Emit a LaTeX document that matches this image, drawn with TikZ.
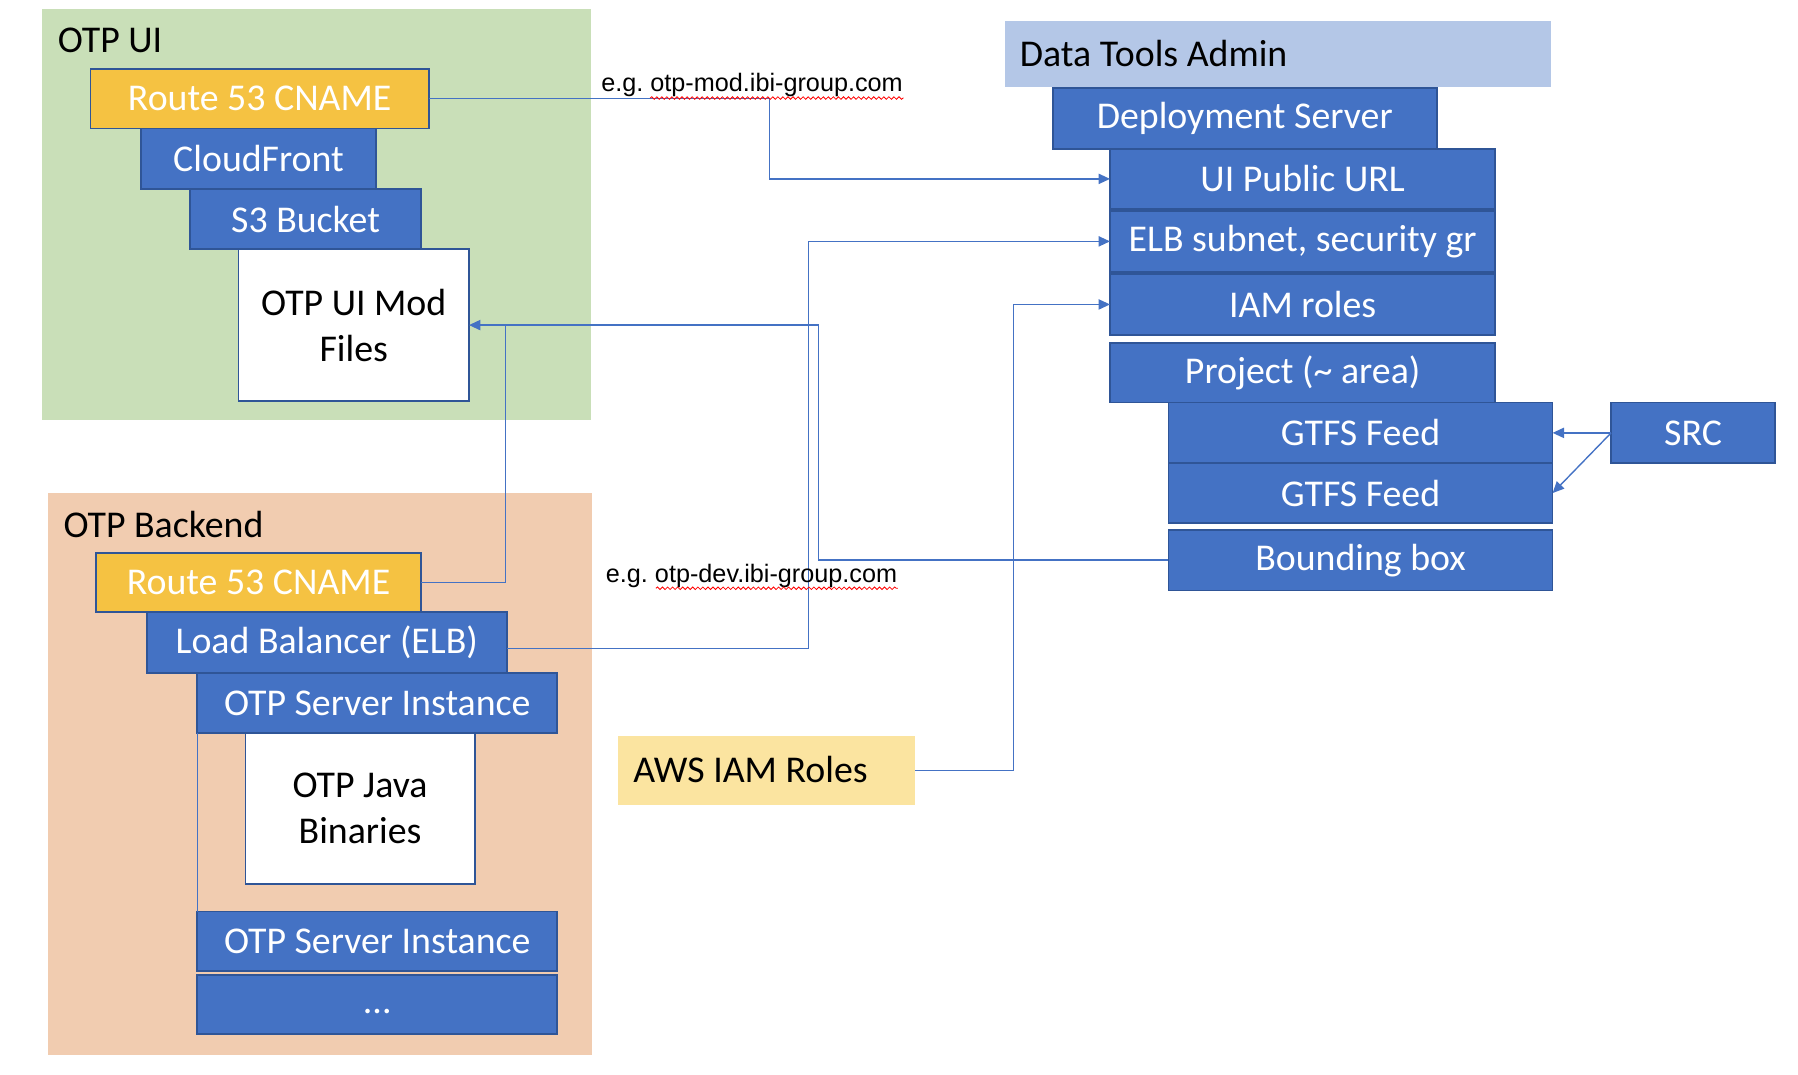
\documentclass[tikz,border=0pt]{standalone}
\usepackage{fontspec}
\setmainfont{Carlito}
\newfontfamily\arialf{Liberation Sans}
\usetikzlibrary{arrows.meta,decorations.pathmorphing}
\definecolor{boxblue}{HTML}{4472C4}
\definecolor{bdr}{HTML}{2F5597}
\definecolor{connblue}{HTML}{4472C4}
\definecolor{orangey}{HTML}{F5C242}
\definecolor{greenbg}{HTML}{C9DFB8}
\definecolor{peachbg}{HTML}{F1CCB0}
\definecolor{lightblue}{HTML}{B4C7E7}
\definecolor{lightyellow}{HTML}{FBE4A0}
\frenchspacing
\newcommand\fs{\fontsize{16.5}{20}\selectfont}
\newcommand\lblfont{\arialf\fontsize{11}{13}\selectfont}
\newcommand\mybox[7]{\node[#6,anchor=north west,minimum width={(#4-#2)*0.5pt},minimum height={(#5-#3)*0.5pt}] (#1) at (#2,#3) {#7};}
\begin{document}
\begin{tikzpicture}[x=0.5pt,y=-0.5pt,
  bluebox/.style={draw=bdr,line width=0.75pt,fill=boxblue,text=white,font=\fs,inner sep=0pt,outer sep=0pt,align=center},
  orangebox/.style={bluebox,fill=orangey},
  whitebox/.style={bluebox,fill=white,text=black},
  bgfill/.style={fill=#1,draw=none,inner sep=0pt,outer sep=0pt},
  titletext/.style={font=\fs,text=black,inner sep=0pt,anchor=west},
  lbl/.style={font=\lblfont,text=black,inner sep=0pt,anchor=base west},
  conn/.style={draw=connblue,line width=0.6pt},
  arr/.style={conn,-{Triangle[length=5pt,width=4.5pt]}},
  squig/.style={draw=red,line width=0.35pt,decorate,decoration={snake,amplitude=0.55pt,segment length=2.2pt}}
]
\useasboundingbox (0,0) rectangle (1568,937);
% group backgrounds
\mybox{otpui}{37}{8}{515}{366}{bgfill=greenbg}{}
\node[titletext] (otpuit) at (50,35) {OTP UI};
\mybox{otpbe}{42}{430}{516}{920}{bgfill=peachbg}{}
\node[titletext] (otpbet) at (55,457) {OTP Backend};
\mybox{dta}{876}{18}{1353}{76}{bgfill=lightblue}{}
\node[titletext] (dtat) at (889,47) {Data Tools Admin};
\mybox{aws}{539}{642}{798}{702}{bgfill=lightyellow}{}
\node[titletext] (awst) at (552,671) {AWS IAM Roles};
% OTP UI stack
\mybox{r53a}{79}{60}{374}{112}{orangebox}{Route 53 CNAME}
\mybox{cf}{123}{112}{328}{165}{bluebox}{CloudFront}
\mybox{s3}{166}{165}{367}{217}{bluebox}{S3 Bucket}
\mybox{ui}{208}{217}{409}{350}{whitebox}{OTP UI Mod\\Files}
% OTP Backend stack
\mybox{r53b}{84}{482}{367}{534}{orangebox}{Route 53 CNAME}
\mybox{elb}{128}{534}{442}{587}{bluebox}{Load Balancer (ELB)}
\mybox{si1}{172}{587}{486}{639}{bluebox}{OTP Server Instance}
\mybox{jav}{214}{639}{414}{771}{whitebox}{OTP Java\\Binaries}
\mybox{si2}{172}{795}{486}{847}{bluebox}{OTP Server Instance}
\mybox{dots}{172}{850}{486}{902}{bluebox}{\vphantom{Ag}...}
% Data Tools Admin stack
\mybox{dep}{918}{77}{1253}{130}{bluebox}{Deployment Server}
\mybox{uipub}{968}{130}{1304}{182}{bluebox}{UI Public URL}
\mybox{elbsub}{968}{184}{1304}{237}{bluebox}{ELB subnet, security gr}
\mybox{iam}{968}{239}{1304}{292}{bluebox}{IAM roles}
\mybox{proj}{968}{299}{1304}{351}{bluebox}{Project (\char`~\ area)}
\mybox{g1}{1019}{351}{1354}{404}{bluebox}{GTFS Feed}
\mybox{g2}{1019}{404}{1354}{456}{bluebox}{GTFS Feed}
\mybox{bbox}{1019}{462}{1354}{515}{bluebox}{Bounding box}
\mybox{src}{1405}{351}{1548}{404}{bluebox}{SRC}
% connector bend points
\coordinate (c1) at (671,0);
\coordinate (c2) at (714,0);
\coordinate (c3) at (441,0);
\coordinate (c4) at (705,0);
\coordinate (c5) at (884,0);
% connectors
\draw[arr] (r53a.east) -| (c1 |- uipub.west) -- (uipub.west);
\draw[arr] (bbox.west) -| (c2 |- ui.east) -- (ui.east);
\draw[conn] (r53b.east) -| (c3 |- ui.east);
\draw[arr] ([yshift=-2.5pt]elb.east) -| (c4 |- elbsub.west) -- (elbsub.west);
\draw[arr] (aws.east) -| (c5 |- iam.west) -- (iam.west);
\draw[arr] (src.west) -- (g1.east);
\draw[arr] (src.west) -- (g2.east);
\draw[conn] (si1.south west) -- (si2.north west);
% labels
\node[lbl] (l1) at (524,80) {e.g. otp-mod.ibi-group.com};
\node[lbl] (l2) at (528,508) {e.g. otp-dev.ibi-group.com};
\draw[squig] (567,85.5) -- (788,85.5);
\draw[squig] (572,513) -- (783,513);
\end{tikzpicture}
\end{document}
